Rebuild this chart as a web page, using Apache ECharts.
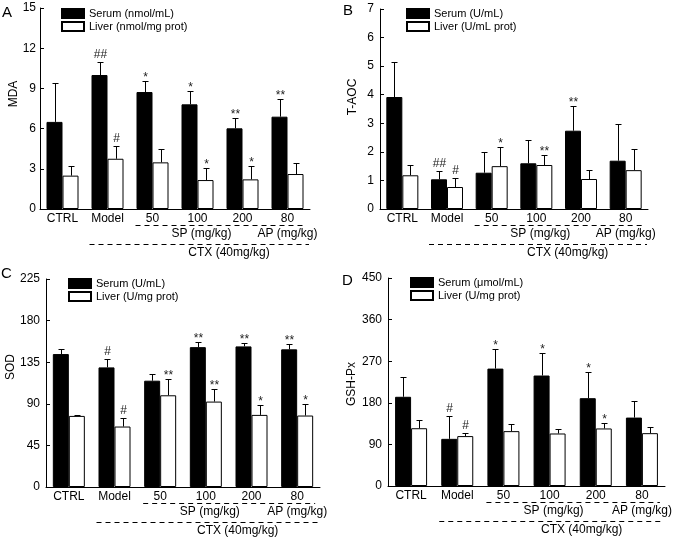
<!DOCTYPE html>
<html><head><meta charset="utf-8">
<script src="https://cdn.jsdelivr.net/npm/echarts@6/dist/echarts.min.js"></script>
<style>html,body{margin:0;padding:0;background:#fff}#c{width:677px;height:543px}</style>
</head><body><div id="c"></div>
<script>
// ---------- data ----------
const categories = ['CTRL', 'Model', '50', '100', '200', '80'];

// Panel A: MDA
const mdaSerum = [6.5, 10.0, 8.73, 7.81, 6.02, 6.89];
const mdaSerumSD = [2.88, 0.95, 0.84, 0.99, 0.79, 1.3];
const mdaLiver = [2.49, 3.75, 3.48, 2.16, 2.21, 2.61];
const mdaLiverSD = [0.72, 0.97, 1.0, 0.92, 1.0, 0.85];
const mdaSerumMarks = ['', '##', '*', '*', '**', '**'];
const mdaLiverMarks = ['', '#', '', '*', '*', ''];
const mdaTicks = [0, 3, 6, 9, 12, 15];

// Panel B: T-AOC
const taocSerum = [3.92, 1.04, 1.27, 1.6, 2.74, 1.69];
const taocSerumSD = [1.21, 0.28, 0.71, 0.81, 0.87, 1.28];
const taocLiver = [1.18, 0.77, 1.5, 1.54, 1.05, 1.36];
const taocLiverSD = [0.37, 0.3, 0.66, 0.34, 0.32, 0.74];
const taocSerumMarks = ['', '##', '', '', '**', ''];
const taocLiverMarks = ['', '#', '*', '**', '', ''];
const taocTicks = [0, 1, 2, 3, 4, 5, 6, 7];

// Panel C: SOD
const sodSerum = [143.8, 129.4, 115, 151.3, 152.1, 148.9];
const sodSerumSD = [5.1, 9.3, 6.9, 5.4, 3.9, 5.4];
const sodLiver = [76.9, 65.4, 99.2, 92.4, 78, 77.3];
const sodLiverSD = [1.4, 9.7, 17.6, 13.6, 11.1, 12.9];
const sodSerumMarks = ['', '#', '', '**', '**', '**'];
const sodLiverMarks = ['', '#', '**', '**', '*', '*'];
const sodTicks = [0, 45, 90, 135, 180, 225];

// Panel D: GSH-Px
const gshSerum = [193, 102, 254, 239, 190, 148];
const gshSerumSD = [42, 49, 43, 49.5, 56.6, 36];
const gshLiver = [125, 108, 118.7, 113.6, 124.5, 114.3];
const gshLiverSD = [17.5, 5.6, 16.3, 10, 12.2, 13.7];
const gshSerumMarks = ['', '#', '*', '*', '*', ''];
const gshLiverMarks = ['', '#', '', '', '*', ''];
const gshTicks = [0, 90, 180, 270, 360, 450];

// ---------- layout ----------
const FONT = '"Liberation Sans", Arial, Helvetica, sans-serif';
const panels = [
  {letter: 'A', yName: 'MDA', ticks: mdaTicks, serum: mdaSerum, serumSD: mdaSerumSD, liver: mdaLiver, liverSD: mdaLiverSD,
   serumMarks: mdaSerumMarks, liverMarks: mdaLiverMarks, serumName: 'Serum (nmol/mL)', liverName: 'Liver (nmol/mg prot)',
   grid: {left: 40, top: 8, width: 270, height: 201}, labelMargin: 4, legend: [61, 8], yNamePos: [14, 94], letterPos: [2, 12.5]},
  {letter: 'B', yName: 'T-AOC', ticks: taocTicks, serum: taocSerum, serumSD: taocSerumSD, liver: taocLiver, liverSD: taocLiverSD,
   serumMarks: taocSerumMarks, liverMarks: taocLiverMarks, serumName: 'Serum (U/mL)', liverName: 'Liver (U/mL prot)',
   grid: {left: 380, top: 9, width: 268, height: 200}, labelMargin: 6, legend: [406, 8], yNamePos: [353, 97], letterPos: [343, 10.5]},
  {letter: 'C', yName: 'SOD', ticks: sodTicks, serum: sodSerum, serumSD: sodSerumSD, liver: sodLiver, liverSD: sodLiverSD,
   serumMarks: sodSerumMarks, liverMarks: sodLiverMarks, serumName: 'Serum (U/mL)', liverName: 'Liver (U/mg prot)',
   grid: {left: 46, top: 279, width: 274, height: 208}, labelMargin: 6, legend: [68, 278], yNamePos: [11, 367], letterPos: [1, 274]},
  {letter: 'D', yName: 'GSH-Px', ticks: gshTicks, serum: gshSerum, serumSD: gshSerumSD, liver: gshLiver, liverSD: gshLiverSD,
   serumMarks: gshSerumMarks, liverMarks: gshLiverMarks, serumName: 'Serum (μmol/mL)', liverName: 'Liver (U/mg prot)',
   grid: {left: 388, top: 278, width: 277, height: 208}, labelMargin: 6, legend: [410, 277], yNamePos: [352, 384], letterPos: [342, 280.5]}
];

const BAR_W = 16;

function errRender(means, sds, marks, offset) {
  return function (params, api) {
    const i = params.dataIndex;
    const base = api.coord([i, means[i]]);
    const top = api.coord([i, means[i] + sds[i]]);
    const x = Math.round(base[0] + offset) + 0.5;
    const yb = base[1], yt = Math.round(top[1]) + 0.5;
    const st = {stroke: '#000', lineWidth: 1};
    const children = [
      {type: 'line', shape: {x1: x, y1: yb, x2: x, y2: yt}, style: st},
      {type: 'line', shape: {x1: x - 3, y1: yt, x2: x + 3, y2: yt}, style: st}
    ];
    const m = marks[i];
    if (m) {
      const isStar = m.indexOf('*') >= 0;
      children.push({type: 'text', x: x, y: isStar ? yt - 4 : yt - 8,
        style: {text: m, fill: '#222', font: '12px ' + FONT, align: 'center', verticalAlign: 'middle'}});
    }
    return {type: 'group', children: children};
  };
}

const option = {
  animation: false,
  backgroundColor: '#fff',
  grid: panels.map(p => Object.assign({containLabel: false}, p.grid)),
  xAxis: panels.map((p, k) => ({
    type: 'category', gridIndex: k, data: categories,
    axisLine: {lineStyle: {color: '#000', width: 1}},
    axisTick: {show: false},
    axisLabel: {color: '#000', fontSize: 12, fontFamily: FONT, margin: 4, interval: 0}
  })),
  yAxis: panels.map((p, k) => {
    const mx = p.ticks[p.ticks.length - 1];
    return {
      type: 'value', gridIndex: k, min: 0, max: mx, interval: p.ticks[1] - p.ticks[0],
      splitLine: {show: false},
      axisLine: {show: true, lineStyle: {color: '#000', width: 1}},
      axisTick: {show: true, inside: true, length: 4, lineStyle: {color: '#000'}},
      axisLabel: {color: '#000', fontSize: 12, fontFamily: FONT, margin: p.labelMargin}
    };
  }),
  legend: panels.map(p => ({
    orient: 'vertical', left: p.legend[0], top: p.legend[1],
    itemWidth: 22, itemHeight: 9, itemGap: 2, selectedMode: false, padding: 0,
    textStyle: {color: '#000', fontSize: 11, fontFamily: FONT},
    data: [{name: p.serumName, icon: 'rect'}, {name: p.liverName, icon: 'rect'}]
  })),
  series: []
};

panels.forEach((p, k) => {
  option.series.push({
    type: 'bar', name: p.serumName, xAxisIndex: k, yAxisIndex: k, data: p.serum,
    barWidth: BAR_W, barGap: '0%',
    itemStyle: {color: '#000', borderColor: '#000', borderWidth: 1}
  });
  option.series.push({
    type: 'bar', name: p.liverName, xAxisIndex: k, yAxisIndex: k, data: p.liver,
    barWidth: BAR_W, barGap: '0%',
    itemStyle: {color: '#fff', borderColor: '#000', borderWidth: 1}
  });
  option.series.push({
    type: 'custom', xAxisIndex: k, yAxisIndex: k, z: 5,
    data: p.serum.map((v, i) => [i, v]),
    renderItem: errRender(p.serum, p.serumSD, p.serumMarks, -BAR_W / 2)
  });
  option.series.push({
    type: 'custom', xAxisIndex: k, yAxisIndex: k, z: 5,
    data: p.liver.map((v, i) => [i, v]),
    renderItem: errRender(p.liver, p.liverSD, p.liverMarks, BAR_W / 2)
  });
});

const chart = echarts.init(document.getElementById('c'), null, {renderer: 'canvas'});
chart.setOption(option);

// annotations (panel letters, axis names, group brackets)
const graphics = [];
panels.forEach((p, k) => {
  const cx = i => chart.convertToPixel({xAxisIndex: k}, i);
  const bottom = p.grid.top + p.grid.height;
  const right = p.grid.left + p.grid.width;
  const dash = {stroke: '#000', lineWidth: 1, lineDash: [5, 4]};
  const txt = (s, x, y, size, rot) => ({type: 'text', x: x, y: y, rotation: rot || 0,
    style: {text: s, fill: '#000', font: size + 'px ' + FONT, align: 'center', verticalAlign: 'middle'}});
  graphics.push({type: 'text', x: p.letterPos[0], y: p.letterPos[1],
    style: {text: p.letter, fill: '#000', font: '15px ' + FONT, align: 'left', verticalAlign: 'middle'}});
  graphics.push(txt(p.yName, p.yNamePos[0], p.yNamePos[1], 12, Math.PI / 2));
  const y1 = Math.round(bottom + 16) + 0.5;
  graphics.push({type: 'line', shape: {x1: cx(2) - 17, y1: y1, x2: cx(5) + 18, y2: y1}, style: dash});
  graphics.push(txt('SP (mg/kg)', cx(3) + 4, bottom + 25, 12));
  graphics.push(txt('AP (mg/kg)', cx(5), bottom + 25, 12));
  const y2 = Math.round(bottom + 35) + 0.5;
  graphics.push({type: 'line', shape: {x1: cx(1) - 18, y1: y2, x2: right - 1, y2: y2}, style: dash});
  graphics.push(txt('CTX (40mg/kg)', (cx(3) + cx(4)) / 2 + 9, bottom + 44, 12));
});
chart.setOption({graphic: graphics});
</script>
</body></html>
